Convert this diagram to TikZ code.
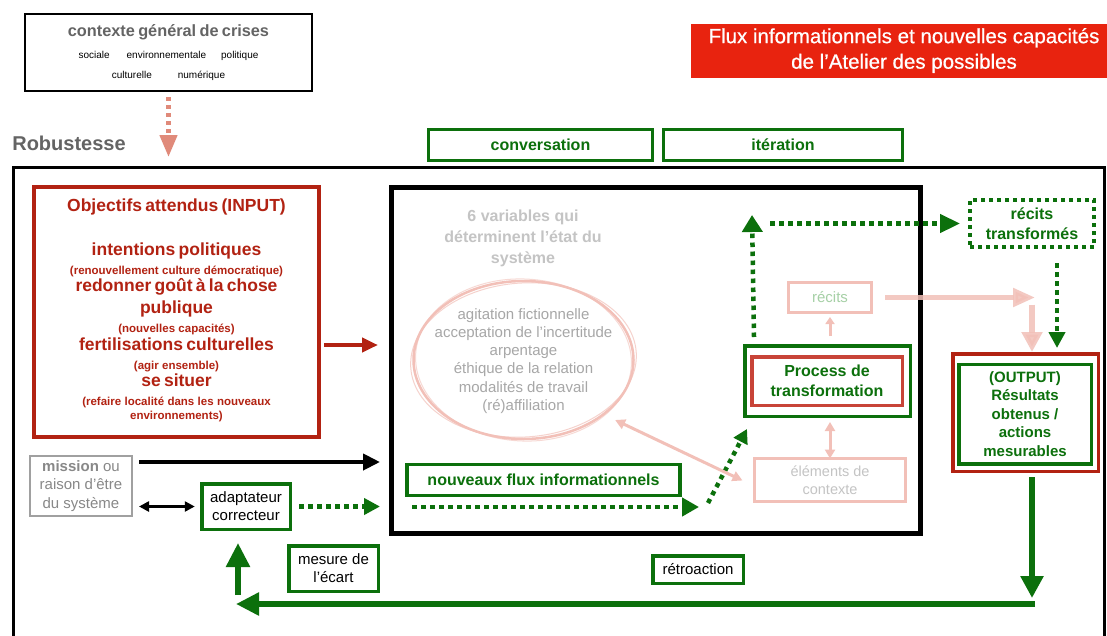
\documentclass[tikz,border=0pt]{standalone}
\usepackage{fontspec}
\setmainfont{Liberation Sans}
\newfontfamily\titrefont[FakeBold=0.7]{Liberation Sans}
\usetikzlibrary{arrows.meta,shapes.geometric}
\definecolor{vert}{RGB}{12,112,12}
\definecolor{brique}{RGB}{178,34,18}
\definecolor{rougevif}{RGB}{232,35,15}
\definecolor{rougeproc}{RGB}{200,68,56}
\definecolor{saumon}{RGB}{224,138,122}
\definecolor{rosepale}{RGB}{242,192,184}
\definecolor{grisclair}{RGB}{196,196,196}
\definecolor{grismoyen}{RGB}{136,136,136}
\definecolor{grisfonce}{RGB}{100,100,100}
\definecolor{vertpale}{RGB}{166,208,166}
\newcommand\taille[2]{\fontsize{#1}{#2}\selectfont}
\newcommand\ligne[3]{{\noindent\taille{#1}{#2}#3\par}}

\begin{document}
\begin{tikzpicture}[x=1pt, y=-1pt,
  every node/.style={inner sep=0pt, outer sep=0pt, align=center},
  wh/.style 2 args={minimum width=#1pt, minimum height=#2pt},
  gbox/.style={draw=vert, line width=3.5pt},
  pbox/.style={draw=rosepale, line width=3pt},
  gdot/.style={draw=vert, line width=4.5pt, dash pattern=on 4.5pt off 4.5pt},
  gthick/.style={draw=vert, line width=5.5pt},
  pfleche/.style={draw=rosepale, line width=3pt}]
	\useasboundingbox (0,0) rectangle (1107,635);
	\clip (0,0) rectangle (1107,635);
	\fill[white] (0,0) rectangle (1107,635);
	% cadre robustesse
	\draw[line width=3pt] (13.5,650) -- (13.5,167) -- (1104,167) -- (1104,650);
	\node[font=\bfseries\taille{20}{24}, text=grisfonce] (robust) at (69,143) {Robustesse};
	\node[fill=rougevif, text=white, font=\titrefont\taille{20.5}{25.5}, wh={426}{54}] (titre) at (904,50.5)
		{Flux informationnels et nouvelles capacités\\de l’Atelier des possibles};
	\node[draw, line width=1.5pt, wh={287}{77}, text width=287pt] (ctx) at (168.5,52.5)
		{\ligne{16.3}{16}{\bfseries\color{grisfonce}contexte général de crises}%
		 \ligne{10}{21.5}{sociale\hspace{17pt}environnementale\hspace{15pt}politique}%
		 \ligne{10}{20}{culturelle\hspace{26pt}numérique}};
	\coordinate (entree) at (168.5,157);
	\node[gbox, wh={224}{31}, font=\bfseries\taille{16}{19}, text=vert] (conv) at (540.5,145) {conversation};
	\node[gbox, wh={239}{31}, font=\bfseries\taille{16}{19}, text=vert] (iter) at (783,145) {itération};
	% objectifs
	\node[draw=brique, line width=4pt, wh={285}{250}, text width=281pt, text=brique, font=\bfseries] (obj) at (176.5,312)
		{\ligne{17.5}{17}{Objectifs attendus (INPUT)}%
		 \ligne{17.5}{44}{intentions politiques}%
		 \ligne{11.5}{19}{(renouvellement culture démocratique)}%
		 \ligne{17.5}{17}{redonner goût à la chose}%
		 \ligne{17.5}{22}{publique}%
		 \ligne{11.5}{19}{(nouvelles capacités)}%
		 \ligne{17.5}{18}{fertilisations culturelles}%
		 \ligne{11.5}{19}{(agir ensemble)}%
		 \ligne{17.5}{17}{se situer}%
		 \ligne{11.5}{19}{(refaire localité dans les nouveaux}%
		 \ligne{11.5}{14}{environnements)}\vspace{4pt}};
	% systeme
	\node[draw, line width=5pt, wh={529}{346}] (sys) at (656,360) {};
	\node[font=\bfseries\taille{16}{21}, text=grisclair] (etat) at (523,238)
		{6 variables qui\\déterminent l’état du\\système};
	\node[ellipse, draw=rosepale, line width=2.5pt, wh={220}{158}] (ell) at (523.5,360) {};
	\draw[rosepale, line width=1pt, opacity=.7, rotate around={4:(ell.center)}] (ell.center) ellipse [x radius=113, y radius=77];
	\draw[rosepale, line width=1pt, opacity=.6, rotate around={-3:(ell.center)}] (ell.center) ellipse [x radius=108, y radius=81];
	\node[font=\taille{15}{18.2}, text=grisclair!85!black] (vars) at (523.5,361)
		{agitation fictionnelle\\acceptation de l’incertitude\\arpentage\\éthique de la relation\\modalités de travail\\(ré)affiliation};
	\node[gbox, wh={273}{31}, font=\bfseries\taille{16}{19}, text=vert] (nfi) at (543.5,480) {nouveaux flux informationnels};
	\node[gbox, wh={165.5}{70.5}] (proc) at (827.5,381) {};
	\node[draw=rougeproc, line width=3.5pt, wh={150.5}{48.5}, font=\bfseries\taille{16}{20}, text=vert] (procin) at (827,381)
		{Process de\\transformation};
	\node[pbox, wh={83}{30}, font=\taille{15}{18}, text=vertpale] (rec) at (830,297.5) {récits};
	\node[pbox, wh={151}{43}, font=\taille{14.5}{18}, text=grisclair] (elc) at (830,480) {éléments de\\contexte};
	\coordinate (coin) at (752,215);
	\node[draw=vert, line width=4pt, dash pattern=on 4pt off 4pt, wh={124}{47}, font=\bfseries\taille{16}{20}, text=vert] (rt) at (1032,223.5)
		{récits\\transformés};
	\coordinate (virage) at (1035,297.5);
	% sortie
	\node[draw=brique, line width=3.5pt, wh={145.5}{117.5}] (outp) at (1025.5,412.5) {};
	\node[gbox, wh={132.5}{99.5}, font=\bfseries\taille{15}{18.5}, text=vert] (outin) at (1025,414)
		{(OUTPUT)\\Résultats\\obtenus /\\actions\\mesurables};
	% boucle du bas
	\node[draw=grismoyen!80, line width=2pt, wh={102}{60}, font=\taille{15}{18.5}, text=grismoyen] (mis) at (81,486)
		{{\bfseries mission} ou\\raison d’être\\du système};
	\node[gbox, wh={88.5}{45.5}, font=\taille{15}{18}] (adap) at (246,506.5) {adaptateur\\correcteur};
	\node[gbox, wh={89.5}{45.5}, font=\taille{15}{18}] (mes) at (333.5,568.5) {mesure de\\l’écart};
	\node[gbox, wh={90.5}{27.5}, font=\taille{15}{18}] (retro) at (698,569.5) {rétroaction};
	\coordinate (bas) at (1032,598);
	\coordinate (retour) at (1035,604);
	\coordinate (gauche) at (236,604);
	\coordinate (depart) at (238,595);

	\draw[draw=saumon, line width=4.5pt, dash pattern=on 4pt off 4pt, shorten <=6pt, -{Triangle[length=22pt,width=17pt]}] (ctx) -- (entree);
	\draw[draw=brique, line width=4pt, -{Triangle[length=16pt,width=14pt]}] ([xshift=5pt,yshift=-33pt]obj.east) -- ([xshift=-13.5pt,yshift=15pt]sys.west);
	\draw[line width=4pt, -{Triangle[length=17pt,width=16pt]}] ([xshift=7pt,yshift=24pt]mis.east) -- ([xshift=-11.5pt,yshift=-102pt]sys.west);
	\draw[line width=2.5pt, {Triangle[length=10pt,width=10pt]}-{Triangle[length=10pt,width=10pt]}] ([xshift=7pt,yshift=-20.5pt]mis.east) -- ([xshift=-7pt]adap.west);
	\draw[gdot, -{Triangle[length=16pt,width=16pt]}] ([xshift=9pt]adap.east) -- ([xshift=-11.5pt,yshift=-146.5pt]sys.west);
	\draw[gdot, -{Triangle[length=17pt,width=18pt]}] ([xshift=5pt,yshift=-11.5pt]nfi.south west) -- ([xshift=19pt,yshift=-11.5pt]nfi.south east);
	\draw[gdot, -{Triangle[length=14pt,width=15pt]}] ([xshift=28pt,yshift=-7.5pt]nfi.south east) -- ([xshift=2.25pt,yshift=-12.75pt]proc.south west);
	\draw[gdot, -{Triangle[length=17pt,width=20pt]}] ([xshift=9.25pt,yshift=8.75pt]proc.north west) -- (coin);
	\draw[gdot, -{Triangle[length=20pt,width=18pt]}] ([xshift=18pt,yshift=-8.5pt]coin) -- ([xshift=-10pt]rt.west);
	\draw[gdot, -{Triangle[length=16pt,width=16pt]}] ([xshift=25pt,yshift=-16pt]rt.south) -- ([xshift=31.5pt,yshift=5.75pt]outp.north);
	\draw[draw=rosepale, opacity=.85, line width=5pt, -{Triangle[length=22pt,width=18pt]}] ([xshift=13.5pt]rec.east) -- (virage);
	\draw[draw=rosepale, opacity=.85, line width=6pt, -{Triangle[length=20pt,width=20pt]}] ([xshift=-3pt,yshift=-7pt]virage) -- ([xshift=6.5pt,yshift=1.75pt]outp.north);
	\draw[pfleche, -{Triangle[length=7pt,width=9pt]}] ([xshift=2.5pt,yshift=9.75pt]proc.north) -- ([yshift=-4.5pt]rec.south);
	\draw[pfleche, {Triangle[length=9pt,width=10pt]}-{Triangle[length=9pt,width=10pt]}] ([xshift=2.5pt,yshift=-5.75pt]proc.south) -- (elc.north);
	\draw[pfleche, {Triangle[length=10pt,width=10pt]}-{Triangle[length=10pt,width=10pt]}] ([xshift=10pt,yshift=-7pt]ell.-33) -- ([xshift=-12pt,yshift=-0.5pt]elc.west);
	\draw[gthick, -{Triangle[length=22pt,width=22pt]}] ([xshift=6.5pt,yshift=-5.75pt]outp.south) -- (bas);
	\draw[gthick, -{Triangle[length=23pt,width=22pt]}] (retour) -- (gauche);
	\draw[gthick, -{Triangle[length=24pt,width=23pt]}] (depart) -- ([xshift=-8pt,yshift=-13.75pt]adap.south);
\end{tikzpicture}
\end{document}
